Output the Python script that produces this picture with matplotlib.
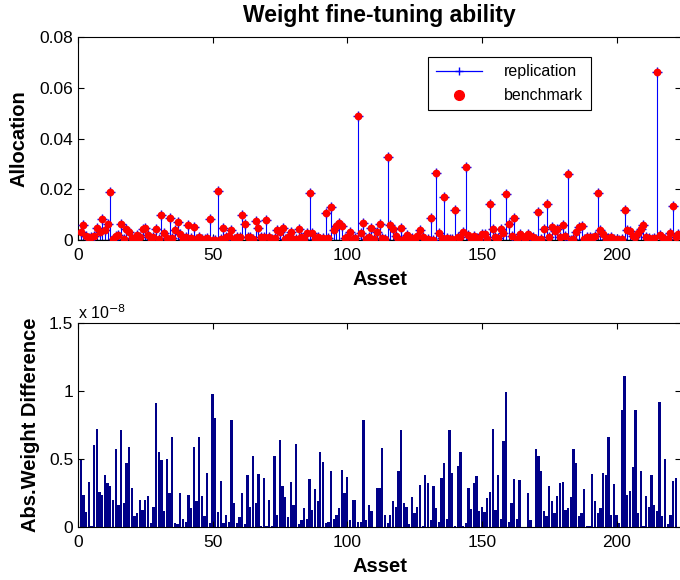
import matplotlib

matplotlib.use("Agg")
import matplotlib.pyplot as plt
import numpy as np
from matplotlib.legend_handler import HandlerLine2D

plt.rcParams["font.family"] = ["Liberation Sans", "DejaVu Sans"]

# Portfolio weights per asset (benchmark; the replication hits the same values)
allocation = [
    0.0033, 0.006, 0.0016, 0.0008, 0.001, 0.0016, 0.0046, 0.003, 0.0083, 0.004,
    0.0063, 0.019, 0.0005, 0.0016, 0.002, 0.0063, 0.0005, 0.0042, 0.0033, 0.0007,
    0.0003, 0.002, 0.001, 0.0043, 0.0047, 0.002, 0.0005, 0.0013, 0.0042, 0.0003,
    0.0099, 0.0026, 0.0007, 0.0088, 0.0007, 0.004, 0.007, 0.0024, 0.0005, 0.001,
    0.006, 0.0007, 0.0053, 0.0005, 0.001, 0.0003, 0.0005, 0.0007, 0.0084, 0.0001,
    0.0001, 0.0193, 0.0005, 0.0049, 0.001, 0.0016, 0.004, 0.0005, 0.001, 0.001,
    0.0099, 0.0063, 0.001, 0.0013, 0.0005, 0.0074, 0.0047, 0.0013, 0.001, 0.0079,
    0.001, 0.0005, 0.0008, 0.004, 0.0033, 0.0049, 0.0005, 0.0013, 0.0033, 0.0003,
    0.0005, 0.0043, 0.001, 0.0005, 0.0026, 0.0184, 0.0026, 0.0005, 0.001, 0.0005,
    0.0007, 0.0108, 0.0007, 0.0129, 0.004, 0.0055, 0.0068, 0.0055, 0.0007, 0.001,
    0.0033, 0.0005, 0.0007, 0.0488, 0.0026, 0.0068, 0.0005, 0.001, 0.0049, 0.0005,
    0.0033, 0.0063, 0.0007, 0.0003, 0.0326, 0.006, 0.0042, 0.0016, 0.0003, 0.0049,
    0.0005, 0.002, 0.001, 0.0007, 0.0005, 0.0016, 0.004, 0.001, 0.0005, 0.0003,
    0.0086, 0.0001, 0.0266, 0.0026, 0.0007, 0.017, 0.0007, 0.0005, 0.0003, 0.0118,
    0.001, 0.001, 0.0033, 0.0286, 0.002, 0.0005, 0.0016, 0.0007, 0.0003, 0.0024,
    0.0024, 0.0003, 0.0141, 0.0043, 0.001, 0.0007, 0.0043, 0.0029, 0.018, 0.0063,
    0.0016, 0.0086, 0.0005, 0.0024, 0.0016, 0.0005, 0.0024, 0.0016, 0.001, 0.0005,
    0.0109, 0.0003, 0.0043, 0.0141, 0.0013, 0.0053, 0.0036, 0.0043, 0.0013, 0.006,
    0.0016, 0.026, 0.0001, 0.0005, 0.0033, 0.005, 0.0054, 0.0005, 0.001, 0.001,
    0.0007, 0.0016, 0.0184, 0.004, 0.0024, 0.0005, 0.0007, 0.001, 0.0003, 0.0005,
    0.0001, 0.0003, 0.0118, 0.004, 0.0036, 0.0016, 0.001, 0.0026, 0.0043, 0.006,
    0.001, 0.0007, 0.0005, 0.0007, 0.0661, 0.002, 0.0013, 0.0005, 0.0003, 0.0026,
    0.0134, 0.001, 0.0024,
]

# Absolute weight difference per asset, in units of 1e-8
abs_diff = [
    0.50, 0.235, 0.11, 0.33, 0.01, 0.60, 0.72, 0.26, 0.235, 0.38,
    0.32, 0.30, 0.20, 0.57, 0.16, 0.71, 0.18, 0.47, 0.59, 0.29,
    0.08, 0.10, 0.20, 0.125, 0.20, 0.23, 0.03, 0.15, 0.91, 0.55,
    0.49, 0.12, 0.50, 0.25, 0.66, 0.03, 0.02, 0.25, 0.06, 0.04,
    0.235, 0.14, 0.59, 0.19, 0.66, 0.23, 0.08, 0.40, 0.03, 0.98,
    0.80, 0.11, 0.34, 0.03, 0.09,
    0.04, 0.79, 0.18, 0.03, 0.07, 0.25, 0.02, 0.38, 0.15, 0.52,
    0.18, 0.39, 0.01, 0.36, 0.01, 0.20, 0.01, 0.52, 0.09, 0.64,
    0.30, 0.22, 0.07, 0.33, 0.16, 0.61, 0.02, 0.05, 0.14, 0.06,
    0.35, 0.125, 0.28, 0.19, 0.55, 0.48, 0.03, 0.04, 0.41, 0.06,
    0.09, 0.14, 0.42, 0.25, 0.365, 0.05, 0.20, 0.20, 0.04, 0.04,
    0.79, 0.05, 0.16, 0.12,
    0.0, 0.29, 0.29, 0.58, 0.09, 0.03, 0.09, 0.19, 0.15, 0.41,
    0.71, 0.18, 0.15, 0.02, 0.22, 0.105, 0.145, 0.31, 0.01, 0.385,
    0.32, 0.05, 0.30, 0.14, 0.04, 0.36, 0.47, 0.06, 0.71, 0.40,
    0.01, 0.45, 0.55, 0.01, 0.03, 0.29, 0.13, 0.32, 0.375, 0.12,
    0.15, 0.11, 0.21, 0.255, 0.72, 0.125, 0.38, 0.06, 0.63, 0.99,
    0.04, 0.18, 0.35, 0.06, 0.345, 0.0,
    0.0, 0.25, 0.05, 0.0, 0.57, 0.52, 0.41, 0.12, 0.08, 0.30,
    0.19, 0.10, 0.23, 0.32, 0.33, 0.125, 0.14, 0.22, 0.57, 0.47,
    0.08, 0.105, 0.28, 0.01, 0.005, 0.39, 0.19, 0.105, 0.14, 0.40,
    0.385, 0.665, 0.09, 0.315, 0.09, 0.03, 0.86, 1.11, 0.235, 0.265,
    0.44, 0.86, 0.105, 0.41, 0.005, 0.23, 0.145, 0.38, 0.16, 0.12,
    0.92, 0.08, 0.50, 0.02, 0.09, 0.34, 0.36,
]

x_ticks = [0, 50, 100, 150, 200]
alloc_ticks = [0, 0.02, 0.04, 0.06, 0.08]
alloc_tick_labels = ["0", "0.02", "0.04", "0.06", "0.08"]
diff_ticks = [0, 0.5, 1, 1.5]
diff_tick_labels = ["0", "0.5", "1", "1.5"]

assets_alloc = np.arange(1, len(allocation) + 1)
assets_diff = np.arange(1, len(abs_diff) + 1)
x_max = 224


class StemLegendHandler(HandlerLine2D):
    """Legend entry for a stem: plain line with the marker at its right end."""

    def get_xdata(self, legend, xdescent, ydescent, width, height, fontsize):
        xdata = np.array([-xdescent, -xdescent + width])
        return xdata, np.array([-xdescent + width * 0.93])


fig = plt.figure(figsize=(6.8, 5.8), dpi=100)
ax_top = fig.add_axes([0.1147, 0.5862, 0.8870, 0.3500])
ax_bot = fig.add_axes([0.1147, 0.0914, 0.8870, 0.3517])

# top panel: stems for the replication, dots for the benchmark
ax_top.vlines(assets_alloc, 0, allocation, color="#0000ff", linewidth=0.8, zorder=2)
ax_top.plot(assets_alloc, allocation, linestyle="none", marker="+", color="#0000ff",
            markersize=7, markeredgewidth=1.0, zorder=3)
ax_top.axhline(0, color="black", linewidth=1.0, zorder=4)
ax_top.plot(assets_alloc, allocation, linestyle="none", marker="o", color="#ff0000",
            markersize=5.6, markeredgewidth=0, zorder=5)

handle_rep, = ax_top.plot([], [], color="#0000ff", linewidth=0.9, marker="+",
                          markersize=6, label="replication")
handle_bm, = ax_top.plot([], [], linestyle="none", marker="o", color="#ff0000",
                         markersize=7, label="benchmark")
leg = ax_top.legend(handles=[handle_rep, handle_bm], loc="upper left",
                    bbox_to_anchor=(0.581, 0.90), borderaxespad=0,
                    fancybox=False, framealpha=1,
                    edgecolor="black", fontsize=11.5, handlelength=2.9,
                    handletextpad=1.4, borderpad=0.45, labelspacing=0.55,
                    handler_map={handle_rep: StemLegendHandler(numpoints=1)})
leg.get_frame().set_linewidth(0.8)

ax_top.set_xlim(0, x_max)
ax_top.set_ylim(0, 0.08)
ax_top.set_xticks(x_ticks)
ax_top.set_yticks(alloc_ticks)
ax_top.set_yticklabels(alloc_tick_labels)
ax_top.set_xlabel("Asset", fontsize=14.5, fontweight="bold", labelpad=5)
ax_top.set_ylabel("Allocation", fontsize=14.5, fontweight="bold", labelpad=8)
ax_top.set_title("Weight fine-tuning ability", fontsize=16.5, fontweight="bold", pad=11)

# bottom panel: absolute weight differences as bars
ax_bot.bar(assets_diff, abs_diff, width=0.85, color="#000088", edgecolor="none")
ax_bot.set_xlim(0, x_max)
ax_bot.set_ylim(0, 1.5)
ax_bot.set_xticks(x_ticks)
ax_bot.set_yticks(diff_ticks)
ax_bot.set_yticklabels(diff_tick_labels)
ax_bot.set_xlabel("Asset", fontsize=14.5, fontweight="bold", labelpad=5)
ax_bot.set_ylabel("Abs.Weight Difference", fontsize=14.5, fontweight="bold", labelpad=6)
ax_bot.text(0.0, 1.005, r"x 10$^{-8}$", transform=ax_bot.transAxes,
            fontsize=11.5, ha="left", va="bottom")

for ax in (ax_top, ax_bot):
    ax.tick_params(direction="in", top=True, right=True, labelsize=12.5,
                   length=4, width=0.8)
    ax.tick_params(axis="x", pad=6)
    for spine in ax.spines.values():
        spine.set_linewidth(0.8)

fig.savefig("out.png", dpi=100)
